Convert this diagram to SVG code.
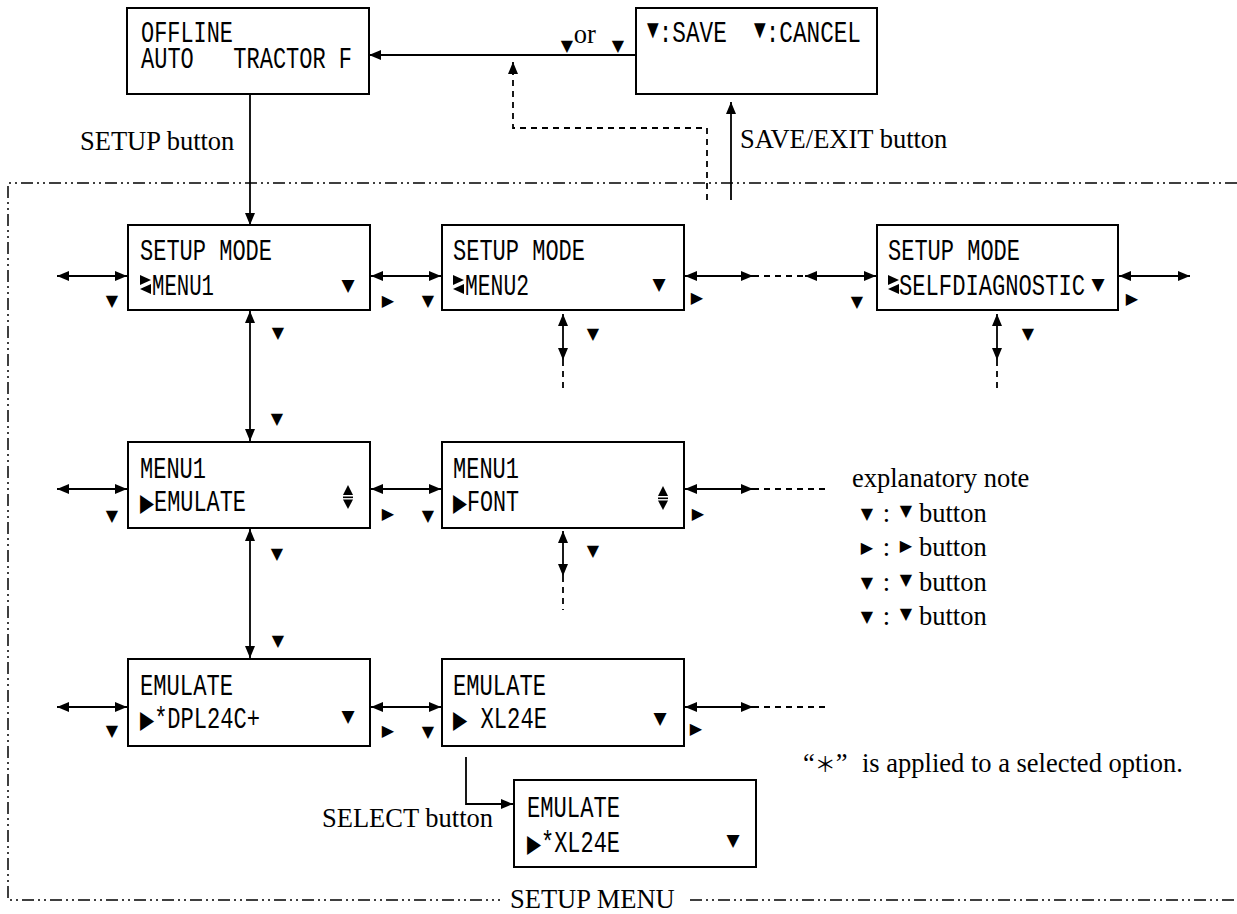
<svg xmlns="http://www.w3.org/2000/svg" width="1237" height="914" viewBox="0 0 1237 914">
<style>
.box{fill:#fff;stroke:#000;stroke-width:2}
.m{font-family:"Liberation Mono","DejaVu Sans Mono",monospace;font-size:30px;fill:#000}
.sy{font-family:"DejaVu Sans",sans-serif}
.s{font-family:"Liberation Serif","Noto Sans CJK JP",serif;font-size:26.5px;fill:#000}
.t{font-family:"DejaVu Sans",sans-serif;font-size:16px;text-anchor:middle;fill:#000}
.tb{font-family:"DejaVu Sans",sans-serif;font-size:17px;text-anchor:middle;fill:#000}
.ln{fill:none;stroke:#000;stroke-width:1.8}
.dash{fill:none;stroke:#000;stroke-width:1.8;stroke-dasharray:6 5}
.frame{fill:none;stroke:#000;stroke-width:1.5;stroke-dasharray:12 4 2 4 2 4}
</style>
<defs>
<marker id="ah" viewBox="0 0 12 10" refX="12" refY="5" markerWidth="12" markerHeight="10" markerUnits="userSpaceOnUse" orient="auto-start-reverse"><path d="M0,0 L12,5 L0,10 z"/></marker>
<g id="lr"><polygon points="0,0 11,5 0,10"/><polygon points="11,9 0,14 11,19"/></g>
<g id="ud"><polygon points="-5,10 0,0 5,10"/><rect x="-5" y="11.5" width="10" height="1.6"/><polygon points="-5,14.6 5,14.6 0,24"/></g>
</defs>

<g id="frame">
<path class="frame" d="M1237,183 H8 V900 H500"/>
<path class="frame" d="M690,900 H1237"/>
<text class="s" x="510" y="908">SETUP MENU</text>
</g>

<g id="connectors">
<line class="ln" x1="636" y1="55" x2="369" y2="55" marker-end="url(#ah)"/>
<path class="dash" d="M707,200 V128 H513 V62" marker-end="url(#ah)"/>
<line class="ln" x1="731" y1="200" x2="731" y2="102" marker-end="url(#ah)"/>
<line class="ln" x1="250" y1="94" x2="250" y2="225" marker-end="url(#ah)"/>
<!-- row 1 -->
<line class="ln" x1="57" y1="276" x2="127" y2="276" marker-start="url(#ah)" marker-end="url(#ah)"/>
<line class="ln" x1="371" y1="276" x2="441" y2="276" marker-start="url(#ah)" marker-end="url(#ah)"/>
<line class="ln" x1="685" y1="276" x2="753" y2="276" marker-start="url(#ah)" marker-end="url(#ah)"/>
<line class="dash" x1="753" y1="276" x2="805" y2="276"/>
<line class="ln" x1="805" y1="276" x2="876" y2="276" marker-start="url(#ah)" marker-end="url(#ah)"/>
<line class="ln" x1="1119" y1="276" x2="1190" y2="276" marker-start="url(#ah)" marker-end="url(#ah)"/>
<line class="ln" x1="250" y1="311" x2="250" y2="441" marker-start="url(#ah)" marker-end="url(#ah)"/>
<line class="ln" x1="563" y1="314" x2="563" y2="360" marker-start="url(#ah)" marker-end="url(#ah)"/>
<line class="dash" x1="563" y1="360" x2="563" y2="393"/>
<line class="ln" x1="997" y1="314" x2="997" y2="360" marker-start="url(#ah)" marker-end="url(#ah)"/>
<line class="dash" x1="997" y1="360" x2="997" y2="393"/>
<!-- row 2 -->
<line class="ln" x1="57" y1="489" x2="127" y2="489" marker-start="url(#ah)" marker-end="url(#ah)"/>
<line class="ln" x1="371" y1="489" x2="441" y2="489" marker-start="url(#ah)" marker-end="url(#ah)"/>
<line class="ln" x1="685" y1="489" x2="753" y2="489" marker-start="url(#ah)" marker-end="url(#ah)"/>
<line class="dash" x1="753" y1="489" x2="830" y2="489"/>
<line class="ln" x1="563" y1="531" x2="563" y2="576" marker-start="url(#ah)" marker-end="url(#ah)"/>
<line class="dash" x1="563" y1="576" x2="563" y2="610"/>
<line class="ln" x1="250" y1="529" x2="250" y2="658" marker-start="url(#ah)" marker-end="url(#ah)"/>
<!-- row 3 -->
<line class="ln" x1="57" y1="707" x2="127" y2="707" marker-start="url(#ah)" marker-end="url(#ah)"/>
<line class="ln" x1="371" y1="707" x2="441" y2="707" marker-start="url(#ah)" marker-end="url(#ah)"/>
<line class="ln" x1="685" y1="707" x2="753" y2="707" marker-start="url(#ah)" marker-end="url(#ah)"/>
<line class="dash" x1="753" y1="707" x2="830" y2="707"/>
<path class="ln" d="M466,757 V804 H513" marker-end="url(#ah)"/>
</g>

<g id="offline">
<rect class="box" x="127" y="8" width="242" height="86"/>
<text class="m" x="141" y="42" textLength="92" lengthAdjust="spacingAndGlyphs">OFFLINE</text>
<text class="m" x="141" y="68" textLength="211" lengthAdjust="spacingAndGlyphs" xml:space="preserve">AUTO   TRACTOR F</text>
</g>

<g id="save-cancel">
<rect class="box" x="636" y="8" width="241" height="86"/>
<text class="m" x="647" y="42" textLength="214" lengthAdjust="spacingAndGlyphs" xml:space="preserve"><tspan class="sy" font-size="20" y="36">▼</tspan><tspan y="42">:SAVE  </tspan><tspan class="sy" font-size="20" y="36">▼</tspan><tspan y="42">:CANCEL</tspan></text>
</g>

<g id="setup-menu1">
<rect class="box" x="128" y="225" width="242" height="85"/>
<text class="m" x="140" y="260" textLength="132" lengthAdjust="spacingAndGlyphs">SETUP MODE</text>
<use href="#lr" x="140" y="275"/>
<text class="m" x="152" y="295" textLength="62" lengthAdjust="spacingAndGlyphs">MENU1</text>
<text class="tb" x="348" y="291">▼</text>
</g>

<g id="setup-menu2">
<rect class="box" x="442" y="225" width="242" height="85"/>
<text class="m" x="453" y="260" textLength="132" lengthAdjust="spacingAndGlyphs">SETUP MODE</text>
<use href="#lr" x="453" y="275"/>
<text class="m" x="465" y="295" textLength="64" lengthAdjust="spacingAndGlyphs">MENU2</text>
<text class="tb" x="659" y="290">▼</text>
</g>

<g id="setup-selfdiagnostic">
<rect class="box" x="877" y="225" width="241" height="85"/>
<text class="m" x="888" y="260" textLength="132" lengthAdjust="spacingAndGlyphs">SETUP MODE</text>
<use href="#lr" x="888" y="275"/>
<text class="m" x="899" y="295" textLength="186" lengthAdjust="spacingAndGlyphs">SELFDIAGNOSTIC</text>
<text class="tb" x="1098" y="290">▼</text>
</g>

<g id="menu1-emulate">
<rect class="box" x="128" y="442" width="242" height="86"/>
<text class="m" x="140" y="478" textLength="66" lengthAdjust="spacingAndGlyphs">MENU1</text>
<text class="m" x="140" y="511" textLength="106" lengthAdjust="spacingAndGlyphs"><tspan class="sy" font-size="25">▶</tspan>EMULATE</text>
<use href="#ud" x="348" y="485"/>
</g>

<g id="menu1-font">
<rect class="box" x="442" y="442" width="242" height="86"/>
<text class="m" x="453" y="478" textLength="66" lengthAdjust="spacingAndGlyphs">MENU1</text>
<text class="m" x="453" y="511" textLength="66" lengthAdjust="spacingAndGlyphs"><tspan class="sy" font-size="25">▶</tspan>FONT</text>
<use href="#ud" x="663" y="486"/>
</g>

<g id="emulate-dpl24c">
<rect class="box" x="128" y="659" width="242" height="87"/>
<text class="m" x="140" y="695" textLength="93" lengthAdjust="spacingAndGlyphs">EMULATE</text>
<text class="m" x="140" y="728" textLength="120" lengthAdjust="spacingAndGlyphs"><tspan class="sy" font-size="25">▶</tspan>*DPL24C+</text>
<text class="tb" x="348" y="722">▼</text>
</g>

<g id="emulate-xl24e">
<rect class="box" x="442" y="659" width="242" height="87"/>
<text class="m" x="453" y="695" textLength="93" lengthAdjust="spacingAndGlyphs">EMULATE</text>
<text class="m" x="453" y="728" textLength="94" lengthAdjust="spacingAndGlyphs" xml:space="preserve"><tspan class="sy" font-size="25">▶</tspan> XL24E</text>
<text class="tb" x="660" y="724">▼</text>
</g>

<g id="emulate-xl24e-selected">
<rect class="box" x="514" y="780" width="242" height="87"/>
<text class="m" x="527" y="817" textLength="93" lengthAdjust="spacingAndGlyphs">EMULATE</text>
<text class="m" x="527" y="852" textLength="93" lengthAdjust="spacingAndGlyphs"><tspan class="sy" font-size="25">▶</tspan>*XL24E</text>
<text class="tb" x="733" y="846">▼</text>
</g>

<g id="labels">
<text class="s" x="80" y="150">SETUP button</text>
<text class="s" x="740" y="148">SAVE/EXIT button</text>
<text class="s" x="322" y="827">SELECT button</text>
<text class="s" y="43" xml:space="preserve"><tspan class="t" x="567" y="51">▼</tspan><tspan x="567" y="43"> or </tspan><tspan class="t" x="618" y="51">▼</tspan></text>
<!-- row 1 buttons -->
<text class="t" x="112" y="306">▼</text>
<text class="t" x="388" y="306">▶</text>
<text class="t" x="428" y="306">▼</text>
<text class="t" x="697" y="303">▶</text>
<text class="t" x="857" y="307">▼</text>
<text class="t" x="1132" y="304">▶</text>
<text class="t" x="278" y="338">▼</text>
<text class="t" x="593" y="339">▼</text>
<text class="t" x="1028" y="339">▼</text>
<text class="t" x="277" y="424">▼</text>
<!-- row 2 buttons -->
<text class="t" x="112" y="521">▼</text>
<text class="t" x="388" y="519">▶</text>
<text class="t" x="428" y="521">▼</text>
<text class="t" x="698" y="519">▶</text>
<text class="t" x="593" y="556">▼</text>
<text class="t" x="277" y="559">▼</text>
<text class="t" x="278" y="646">▼</text>
<!-- row 3 buttons -->
<text class="t" x="112" y="736">▼</text>
<text class="t" x="388" y="736">▶</text>
<text class="t" x="428" y="737">▼</text>
<text class="t" x="696" y="734">▶</text>
</g>

<g id="legend">
<text class="s" x="852" y="487">explanatory note</text>
<text class="s" y="522" xml:space="preserve"><tspan class="t" x="867" y="519">▼</tspan><tspan x="876" y="522"> : </tspan><tspan class="t" x="906" y="516">▼</tspan><tspan x="919" y="522">button</tspan></text>
<text class="s" y="556" xml:space="preserve"><tspan class="t" x="867" y="553">▶</tspan><tspan x="876" y="556"> : </tspan><tspan class="t" x="906" y="551">▶</tspan><tspan x="919" y="556">button</tspan></text>
<text class="s" y="591" xml:space="preserve"><tspan class="t" x="867" y="588">▼</tspan><tspan x="876" y="591"> : </tspan><tspan class="t" x="906" y="585">▼</tspan><tspan x="919" y="591">button</tspan></text>
<text class="s" y="625" xml:space="preserve"><tspan class="t" x="867" y="622">▼</tspan><tspan x="876" y="625"> : </tspan><tspan class="t" x="906" y="619">▼</tspan><tspan x="919" y="625">button</tspan></text>
<text class="s" x="803" y="772" xml:space="preserve">“<tspan font-size="21">＊</tspan>” <tspan x="862">is applied to a selected option.</tspan></text>
</g>
</svg>
